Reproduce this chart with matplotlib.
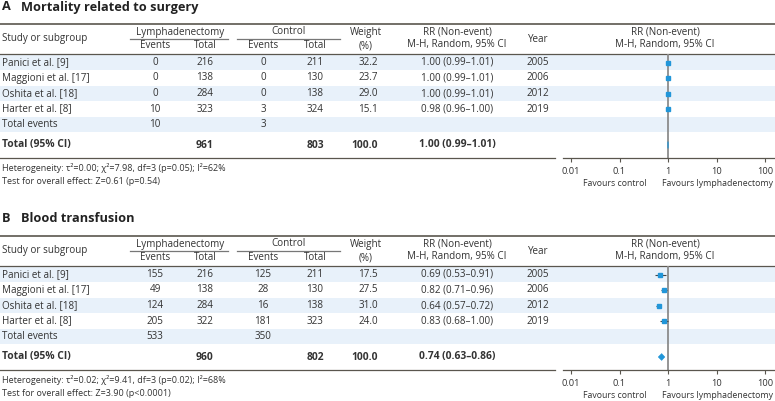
import numpy as np
import matplotlib
matplotlib.use("Agg")
from matplotlib import pyplot as plt
from matplotlib.patches import Polygon

plt.rcParams['font.family'] = ['Open Sans', 'DejaVu Sans']

# ---- data ----
studies = ["Panici et al. [9]", "Maggioni et al. [17]", "Oshita et al. [18]", "Harter et al. [8]"]
years = [2005, 2006, 2012, 2019]

# A - mortality
titleA = "Mortality related to surgery"
lymEvA = [0, 0, 0, 10]
lymTotA = [216, 138, 284, 323]
ctlEvA = [0, 0, 0, 3]
ctlTotA = [211, 130, 138, 324]
weightA = [32.2, 23.7, 29.0, 15.1]
rrA = [1.00, 1.00, 1.00, 0.98]
loA = [0.99, 0.99, 0.99, 0.96]
hiA = [1.01, 1.01, 1.01, 1.00]
totEvA = [10, 3]
totNA = [961, 803]
overallA = [1.00, 0.99, 1.01]
hetA = "Heterogeneity: τ²=0.00; χ²=7.98, df=3 (p=0.05); I²=62%"
testA = "Test for overall effect: Z=0.61 (p=0.54)"

# B - blood transfusion
titleB = "Blood transfusion"
lymEvB = [155, 49, 124, 205]
lymTotB = [216, 138, 284, 322]
ctlEvB = [125, 28, 16, 181]
ctlTotB = [211, 130, 138, 323]
weightB = [17.5, 27.5, 31.0, 24.0]
rrB = [0.69, 0.82, 0.64, 0.83]
loB = [0.53, 0.71, 0.57, 0.68]
hiB = [0.91, 0.96, 0.72, 1.00]
totEvB = [533, 350]
totNB = [960, 802]
overallB = [0.74, 0.63, 0.86]
hetB = "Heterogeneity: τ²=0.02; χ²=9.41, df=3 (p=0.02); I²=68%"
testB = "Test for overall effect: Z=3.90 (p<0.0001)"

ticks = [0.01, 0.1, 1, 10, 100]
tickLabels = ["0.01", "0.1", "1", "10", "100"]

W, H = 775, 401
txt = "#333333"
rule = "#5a564e"
shade = "#e8f1fa"
blue = "#2196d9"
fs = 7.1

fig = plt.figure(figsize=(W / 100, H / 100), dpi=100)
ax = fig.add_axes([0, 0, 1, 1])
ax.set_xlim(0, W)
ax.set_ylim(H, 0)
ax.axis("off")

rowH = 15.5


def panel(top, letter, title, lymEv, lymTot, ctlEv, ctlTot, weight, rr, lo, hi,
          totEv, totN, overall, het, test):
    y = lambda v: top + v
    ax.text(2, y(7), letter, fontsize=9.2, fontweight="bold", color="#222", va="center")
    ax.text(21, y(7), title, fontsize=9.2, fontweight="bold", color="#222", va="center")

    # rules
    ax.plot([0, W], [y(24), y(24)], color=rule, lw=1.2)
    ax.plot([0, W], [y(54), y(54)], color=rule, lw=0.9)
    ax.plot([0, 555], [y(158), y(158)], color=rule, lw=0.9)
    ax.plot([130, 228], [y(38.5), y(38.5)], color="#777", lw=0.9)
    ax.plot([237, 340], [y(38.5), y(38.5)], color="#777", lw=0.9)

    # shaded bands
    for i in [0, 2, 4]:
        ax.fill_between([0, W], y(54.5 + rowH * i), y(54.5 + rowH * (i + 1)),
                        color=shade, lw=0, zorder=0)

    # headers
    hk = dict(fontsize=fs, color=txt, va="center", ha="center")
    ax.text(2, y(39), "Study or subgroup", fontsize=fs, color=txt, va="center")
    ax.text(180, y(32), "Lymphadenectomy", **hk)
    ax.text(288, y(32), "Control", **hk)
    ax.text(155, y(46), "Events", **hk)
    ax.text(205, y(46), "Total", **hk)
    ax.text(263, y(46), "Events", **hk)
    ax.text(315, y(46), "Total", **hk)
    ax.text(366, y(32), "Weight", **hk)
    ax.text(366, y(46), "(%)", **hk)
    ax.text(457, y(32), "RR (Non-event)", **hk)
    ax.text(457, y(45), "M-H, Random, 95% CI", **hk)
    ax.text(538, y(39), "Year", **hk)
    ax.text(665, y(32), "RR (Non-event)", **hk)
    ax.text(665, y(45), "M-H, Random, 95% CI", **hk)

    # rows
    for i in range(len(studies)):
        yy = y(62.5 + rowH * i)
        ax.text(2, yy, studies[i], fontsize=fs, color=txt, va="center")
        ax.text(155, yy, str(lymEv[i]), **hk)
        ax.text(205, yy, str(lymTot[i]), **hk)
        ax.text(263, yy, str(ctlEv[i]), **hk)
        ax.text(315, yy, str(ctlTot[i]), **hk)
        ax.text(378, yy, "%.1f" % weight[i], fontsize=fs, color=txt, va="center", ha="right")
        ax.text(457, yy, "%.2f (%.2f–%.2f)" % (rr[i], lo[i], hi[i]), **hk)
        ax.text(538, yy, str(years[i]), **hk)

    yy = y(62.5 + rowH * 4)
    ax.text(2, yy, "Total events", fontsize=fs, color=txt, va="center")
    ax.text(155, yy, str(totEv[0]), **hk)
    ax.text(263, yy, str(totEv[1]), **hk)

    bk = dict(hk, fontweight="bold", fontsize=7.4)
    yy = y(145)
    ax.text(2, yy, "Total (95% CI)", fontsize=7.4, color=txt, va="center", fontweight="bold")
    ax.text(205, yy, str(totN[0]), **bk)
    ax.text(315, yy, str(totN[1]), **bk)
    ax.text(378, yy, "100.0", fontsize=7.4, color=txt, va="center", ha="right", fontweight="bold")
    ax.text(457, yy, "%.2f (%.2f–%.2f)" % tuple(overall), **bk)

    ax.text(2, y(168), het, fontsize=6.5, color=txt, va="center")
    ax.text(2, y(181), test, fontsize=6.5, color=txt, va="center")

    ax.text(615, y(183), "Favours control", fontsize=6.3, color=txt, va="center", ha="center")
    ax.text(717, y(183), "Favours lymphadenectomy", fontsize=6.3, color=txt, va="center", ha="center")

    # forest plot axes
    fa = fig.add_axes([563 / W, 1 - y(158) / H, 212 / W, 104 / H])
    fa.patch.set_alpha(0)
    fa.set_xscale("log")
    fa.set_xlim(10 ** -2.165, 10 ** 2.206)
    totRow = (145 - 62.5) / rowH
    fa.set_ylim((158 - 62.5) / rowH, (54 - 62.5) / rowH)
    for s in ["top", "right", "left"]:
        fa.spines[s].set_visible(False)
    fa.spines["bottom"].set_color(rule)
    fa.spines["bottom"].set_linewidth(0.9)
    fa.set_yticks([])
    fa.set_xticks(ticks)
    fa.set_xticklabels(tickLabels)
    fa.minorticks_off()
    fa.tick_params(axis="x", length=3, width=0.8, color=rule, labelsize=6.7,
                   labelcolor=txt, pad=3.5)
    fa.axvline(1, color="#8c8c8c", lw=1.3, zorder=1)

    rows = np.arange(len(studies))
    fa.hlines(rows, lo, hi, color="#444", lw=0.8, zorder=2)
    for i in rows:
        fa.plot(rr[i], i, marker="s", ms=0.6 * np.sqrt(weight[i]), color=blue,
                mec=blue, zorder=3)
    r, l, h = overall
    d = 0.22
    fa.add_patch(Polygon([[l, totRow], [r, totRow - d], [h, totRow], [r, totRow + d]],
                         closed=True, color=blue, lw=0.4, zorder=3))


panel(0, "A", titleA, lymEvA, lymTotA, ctlEvA, ctlTotA, weightA, rrA, loA, hiA,
      totEvA, totNA, overallA, hetA, testA)
panel(212, "B", titleB, lymEvB, lymTotB, ctlEvB, ctlTotB, weightB, rrB, loB, hiB,
      totEvB, totNB, overallB, hetB, testB)

fig.savefig("out.png", dpi=100)
